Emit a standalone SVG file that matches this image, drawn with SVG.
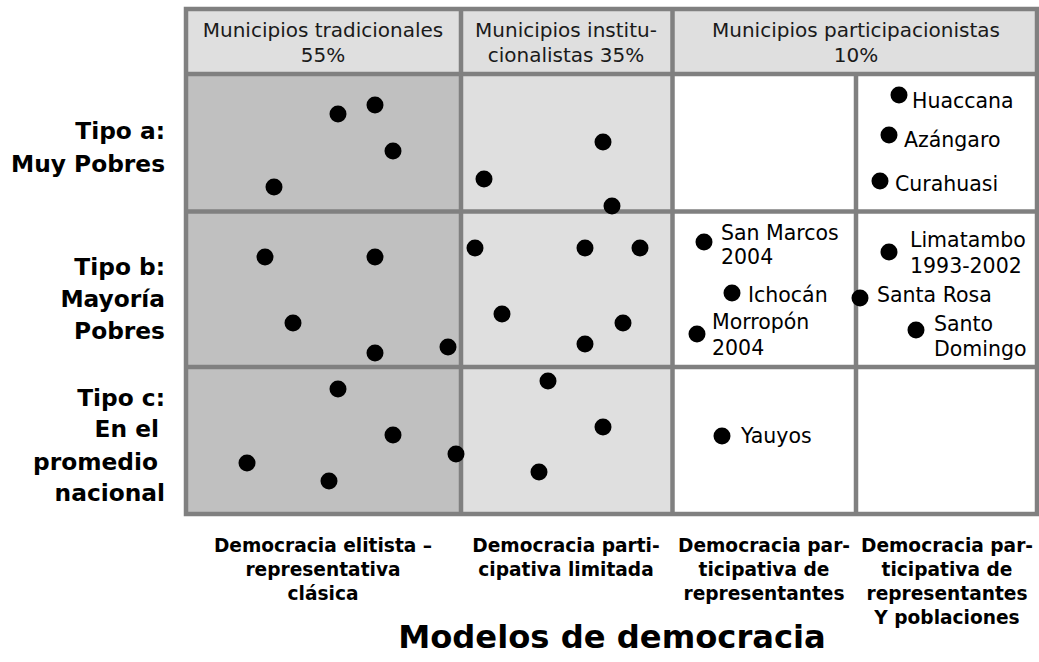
<svg xmlns="http://www.w3.org/2000/svg" width="1039" height="662" viewBox="0 0 1039 662">
<style>
.hdr{font-family:"DejaVu Sans","Liberation Sans",sans-serif;font-size:20px;fill:#1a1a1a;text-anchor:middle}
.town{font-family:"DejaVu Sans","Liberation Sans",sans-serif;font-size:20.5px;fill:#000}
.row{font-family:"DejaVu Sans","Liberation Sans",sans-serif;font-size:23.3px;font-weight:bold;fill:#000;text-anchor:end}
.col{font-family:"DejaVu Sans","Liberation Sans",sans-serif;font-size:18.6px;font-weight:bold;fill:#000;text-anchor:middle}
.title{font-family:"DejaVu Sans","Liberation Sans",sans-serif;font-size:32.2px;font-weight:bold;fill:#000;text-anchor:middle}
.grid{stroke:#808080;stroke-width:4.5;fill:none}
.dot{fill:#000}
</style>
<rect x="0" y="0" width="1039" height="662" fill="#fff"/>
<g id="cells">
<rect x="186" y="9" width="851" height="65" fill="#dfdfdf"/>
<rect x="186" y="74" width="275" height="440" fill="#c0c0c0"/>
<rect x="461" y="74" width="211" height="440" fill="#dfdfdf"/>
<rect x="672" y="74" width="365" height="440" fill="#fff"/>
</g>
<g id="grid" class="grid">
<rect x="186" y="9" width="851" height="505"/>
<line x1="186" y1="74" x2="1037" y2="74"/>
<line x1="186" y1="211.5" x2="1037" y2="211.5"/>
<line x1="186" y1="367" x2="1037" y2="367"/>
<line x1="461" y1="9" x2="461" y2="514"/>
<line x1="672.5" y1="9" x2="672.5" y2="514"/>
<line x1="856" y1="74" x2="856" y2="514"/>
</g>
<g id="header">
<text class="hdr" x="323" y="37">Municipios tradicionales</text>
<text class="hdr" x="323" y="62">55%</text>
<text class="hdr" x="566" y="37">Municipios institu-</text>
<text class="hdr" x="566" y="62">cionalistas 35%</text>
<text class="hdr" x="856" y="37">Municipios participacionistas</text>
<text class="hdr" x="856" y="62">10%</text>
</g>
<g id="row-labels">
<text class="row" x="165" y="139">Tipo a:</text>
<text class="row" x="165" y="172">Muy Pobres</text>
<text class="row" x="165" y="275">Tipo b:</text>
<text class="row" x="165" y="307">Mayoría</text>
<text class="row" x="165" y="339">Pobres</text>
<text class="row" x="165" y="406">Tipo c:</text>
<text class="row" x="159" y="437">En el</text>
<text class="row" x="158" y="470">promedio</text>
<text class="row" x="165" y="501">nacional</text>
</g>
<g id="dots-col1" class="dot">
<circle cx="338" cy="114" r="8.5"/>
<circle cx="375" cy="105" r="8.5"/>
<circle cx="393" cy="151" r="8.5"/>
<circle cx="274" cy="187" r="8.5"/>
<circle cx="265" cy="257" r="8.5"/>
<circle cx="375" cy="257" r="8.5"/>
<circle cx="293" cy="323" r="8.5"/>
<circle cx="375" cy="353" r="8.5"/>
<circle cx="448" cy="347" r="8.5"/>
<circle cx="338" cy="389" r="8.5"/>
<circle cx="393" cy="435" r="8.5"/>
<circle cx="247" cy="463" r="8.5"/>
<circle cx="329" cy="481" r="8.5"/>
<circle cx="456" cy="454" r="8.5"/>
</g>
<g id="dots-col2" class="dot">
<circle cx="603" cy="142" r="8.5"/>
<circle cx="484" cy="179" r="8.5"/>
<circle cx="612" cy="206" r="8.5"/>
<circle cx="475" cy="248" r="8.5"/>
<circle cx="585" cy="248" r="8.5"/>
<circle cx="640" cy="248" r="8.5"/>
<circle cx="502" cy="314" r="8.5"/>
<circle cx="623" cy="323" r="8.5"/>
<circle cx="585" cy="344" r="8.5"/>
<circle cx="548" cy="381" r="8.5"/>
<circle cx="603" cy="427" r="8.5"/>
<circle cx="539" cy="472" r="8.5"/>
</g>
<g id="huaccana"><circle class="dot" cx="899" cy="95" r="8.5"/><text class="town" x="912" y="108">Huaccana</text></g>
<g id="azangaro"><circle class="dot" cx="889" cy="135" r="8.5"/><text class="town" x="904" y="147">Azángaro</text></g>
<g id="curahuasi"><circle class="dot" cx="880" cy="181" r="8.5"/><text class="town" x="895" y="191">Curahuasi</text></g>
<g id="sanmarcos"><circle class="dot" cx="704" cy="242" r="8.5"/><text class="town" x="721" y="240">San Marcos</text><text class="town" x="721" y="264">2004</text></g>
<g id="ichocan"><circle class="dot" cx="732" cy="293" r="8.5"/><text class="town" x="748" y="302">Ichocán</text></g>
<g id="morropon"><circle class="dot" cx="697" cy="334" r="8.5"/><text class="town" x="712" y="329">Morropón</text><text class="town" x="712" y="355">2004</text></g>
<g id="limatambo"><circle class="dot" cx="889" cy="252" r="8.5"/><text class="town" x="910" y="247">Limatambo</text><text class="town" x="910" y="273">1993-2002</text></g>
<g id="santarosa"><circle class="dot" cx="860" cy="298" r="8.5"/><text class="town" x="877" y="302">Santa Rosa</text></g>
<g id="santodomingo"><circle class="dot" cx="916" cy="330" r="8.5"/><text class="town" x="934" y="331">Santo</text><text class="town" x="934" y="356">Domingo</text></g>
<g id="yauyos"><circle class="dot" cx="722" cy="436" r="8.5"/><text class="town" x="741" y="443">Yauyos</text></g>
<g id="col-labels">
<text class="col" x="323" y="552">Democracia elitista –</text>
<text class="col" x="323" y="576">representativa</text>
<text class="col" x="323" y="600">clásica</text>
<text class="col" x="566" y="552">Democracia parti-</text>
<text class="col" x="566" y="576">cipativa limitada</text>
<text class="col" x="764" y="552">Democracia par-</text>
<text class="col" x="764" y="576">ticipativa de</text>
<text class="col" x="764" y="600">representantes</text>
<text class="col" x="947" y="552">Democracia par-</text>
<text class="col" x="947" y="576">ticipativa de</text>
<text class="col" x="947" y="600">representantes</text>
<text class="col" x="947" y="624">Y poblaciones</text>
</g>
<g id="title"><text class="title" x="612" y="648">Modelos de democracia</text></g>
</svg>
